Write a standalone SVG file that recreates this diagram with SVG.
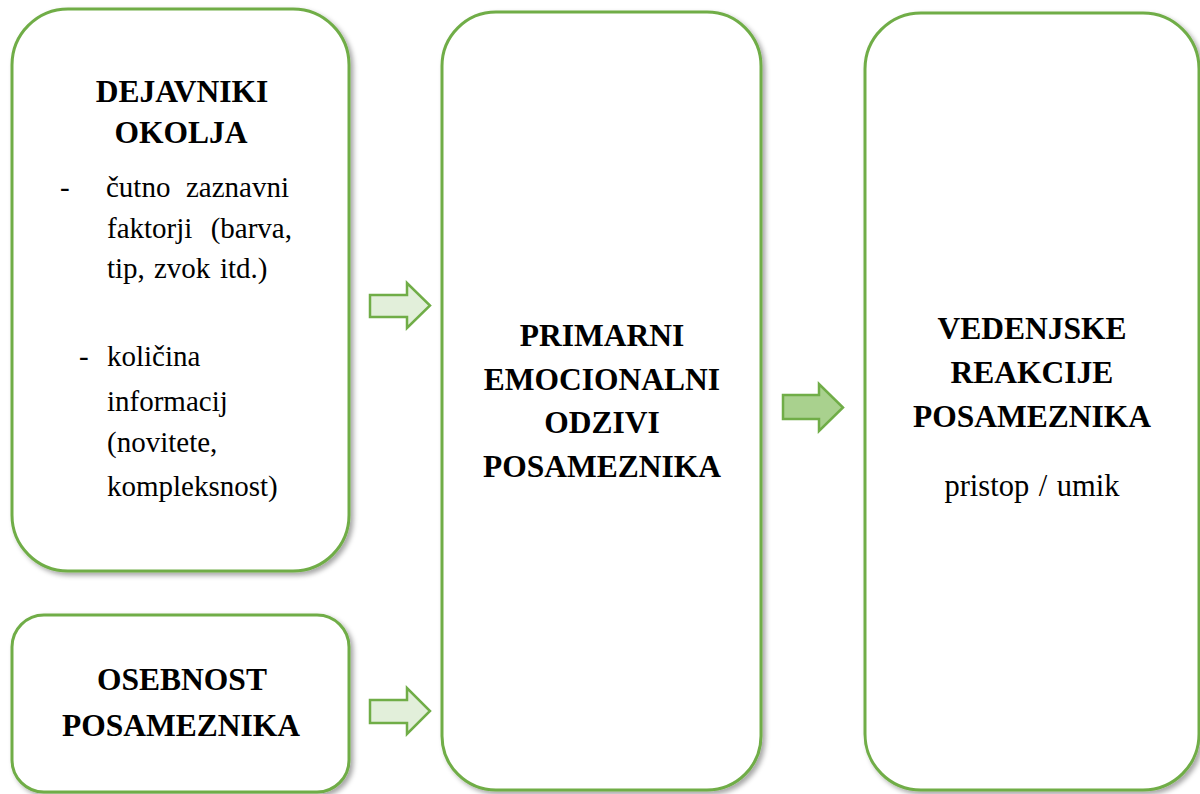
<svg xmlns="http://www.w3.org/2000/svg" width="1200" height="794" viewBox="0 0 1200 794">
<defs>
<filter id="sh" x="-10%" y="-10%" width="130%" height="130%">
<feDropShadow dx="3" dy="3" stdDeviation="2.5" flood-color="#000" flood-opacity="0.35"/>
</filter>
<style>
.box{fill:#fff;stroke:#70AD47;stroke-width:3;filter:url(#sh)}
text{font-family:'Liberation Serif','Times New Roman',serif;fill:#000}
.b{font-weight:bold;font-size:31.5px;text-anchor:middle}
.r{font-size:29px}
.al{fill:#E2EFDA;stroke:#70AD47;stroke-width:2.5}
.ad{fill:#A9D18E;stroke:#70AD47;stroke-width:2.5}
</style>
</defs>
<rect width="1200" height="794" fill="#fff"/>
<g id="node-dejavniki">
<rect class="box" x="12" y="9" width="337" height="562" rx="56" ry="56"/>
<text class="b" x="182" y="102">DEJAVNIKI</text>
<text class="b" x="181" y="143">OKOLJA</text>
<text class="r" x="60" y="197">-</text>
<text class="r" x="106" y="197">čutno</text>
<text class="r" x="289" y="197" text-anchor="end">zaznavni</text>
<text class="r" x="107" y="238">faktorji</text>
<text class="r" x="292" y="238" text-anchor="end">(barva,</text>
<text class="r" x="107" y="278">tip,</text>
<text class="r" x="154" y="278">zvok</text>
<text class="r" x="220" y="278">itd.)</text>
<text class="r" x="79" y="366">-</text>
<text class="r" x="107" y="366">količina</text>
<text class="r" x="107" y="411">informacij</text>
<text class="r" x="107" y="452">(novitete,</text>
<text class="r" x="107" y="496">kompleksnost)</text>
</g>
<g id="node-osebnost">
<rect class="box" x="12" y="615" width="337" height="177" rx="32" ry="32"/>
<text class="b" x="182" y="690">OSEBNOST</text>
<text class="b" x="181" y="736">POSAMEZNIKA</text>
</g>
<g id="node-primarni">
<rect class="box" x="442" y="12" width="319" height="778" rx="54" ry="54"/>
<text class="b" x="602" y="346">PRIMARNI</text>
<text class="b" x="602" y="390">EMOCIONALNI</text>
<text class="b" x="602" y="433">ODZIVI</text>
<text class="b" x="602" y="477">POSAMEZNIKA</text>
</g>
<g id="node-vedenjske">
<rect class="box" x="865" y="13" width="334" height="777" rx="56" ry="56"/>
<text class="b" x="1032" y="339">VEDENJSKE</text>
<text class="b" x="1032" y="383">REAKCIJE</text>
<text class="b" x="1032" y="427">POSAMEZNIKA</text>
<text x="1032" y="496" text-anchor="middle" font-size="30.5" word-spacing="2">pristop / umik</text>
</g>
<g id="connectors">
<polygon class="al" points="370,295 407,295 407,283 430,305.5 407,328 407,317 370,317"/>
<polygon class="al" points="370,700 407,700 407,688 430,711 407,734 407,723 370,723"/>
<polygon class="ad" points="783,395 819,395 819,384 843,407.5 819,431 819,419 783,419"/>
</g>
</svg>
